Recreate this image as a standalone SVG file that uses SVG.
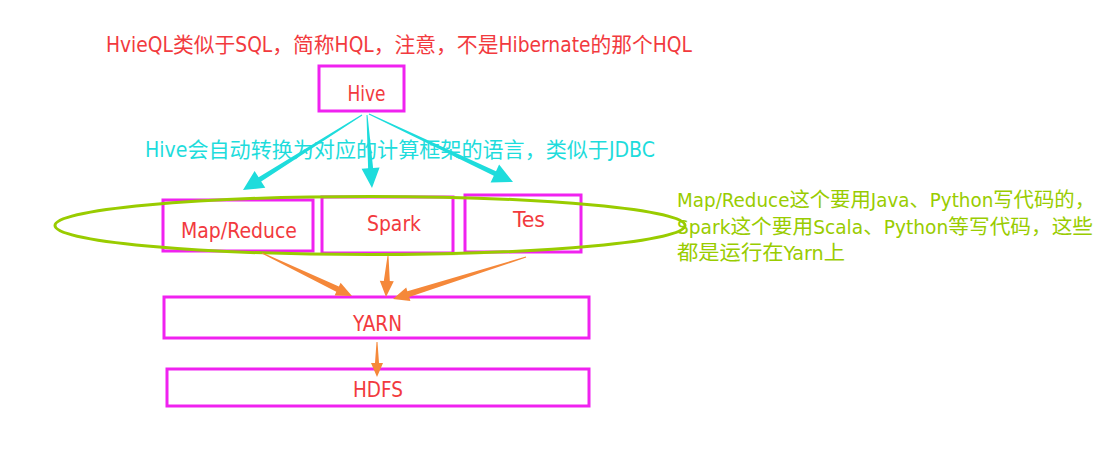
<svg xmlns="http://www.w3.org/2000/svg" width="1112" height="451" viewBox="0 0 1112 451">
<style>
text{font-family:"DejaVu Sans Condensed","DejaVu Sans","Noto Sans CJK SC",sans-serif;font-size:22px}
.box{fill:none;stroke:#f022f0;stroke-width:3}
.lbl{fill:#f23a3e;text-anchor:middle}
.red{fill:#f23a3e;font-size:21px}
.cyan{fill:#1edcdc;font-size:21px}
.green{fill:#99cc00;font-size:20px}
.ca{fill:#1edcdc}
.oa{fill:#f5883a}
</style>
<rect width="1112" height="451" fill="#ffffff"/>
<text class="red" x="106" y="52" textLength="586" lengthAdjust="spacingAndGlyphs">HvieQL类似于SQL，简称HQL，注意，不是Hibernate的那个HQL</text>
<g id="hive"><rect class="box" x="319" y="66" width="85" height="45"/><text class="lbl" x="366.5" y="100.5" textLength="38" lengthAdjust="spacingAndGlyphs">Hive</text></g>
<g id="mapreduce"><rect class="box" x="163" y="200" width="150" height="51"/><text class="lbl" x="239" y="238" textLength="116" lengthAdjust="spacingAndGlyphs">Map/Reduce</text></g>
<g id="spark"><rect class="box" x="322" y="197" width="131" height="56"/><text class="lbl" x="394" y="231" textLength="54" lengthAdjust="spacingAndGlyphs">Spark</text></g>
<g id="tes"><rect class="box" x="465" y="195" width="116" height="57"/><text class="lbl" x="529" y="226.5" textLength="32" lengthAdjust="spacingAndGlyphs">Tes</text></g>
<g id="yarn"><rect class="box" x="164" y="297" width="425" height="41"/><text class="lbl" x="377.5" y="331" textLength="49" lengthAdjust="spacingAndGlyphs">YARN</text></g>
<g id="hdfs"><rect class="box" x="167" y="369" width="422" height="37"/><text class="lbl" x="378" y="396.5" textLength="50" lengthAdjust="spacingAndGlyphs">HDFS</text></g>
<g id="group"><ellipse cx="370" cy="225.5" rx="315" ry="29" fill="none" stroke="#99cc00" stroke-width="3"/></g>
<g id="connectors">
<polygon class="ca" points="361.7,114.6 258.6,177.2 254.6,170.9 243,190 265.3,187.8 261.2,181.4 362.3,115.4"/>
<polygon class="ca" points="366.5,115 368.1,168.3 361.6,168.7 372,188 379.6,167.5 373.1,167.9 367.5,115"/>
<polygon class="ca" points="368.8,114.5 493.8,175.8 490.6,182.5 513,182 499.1,164.5 496,171.2 369.2,113.5"/>
<polygon class="oa" points="261.8,253.5 336.3,291.8 334.6,295.4 352,296 340.6,282.8 338.9,286.4 262.2,252.5"/>
<polygon class="oa" points="387.5,256 383.8,280.9 379.8,280.7 386,297 393.8,281.3 389.8,281.1 388.5,256"/>
<polygon class="oa" points="525.8,256.5 407.4,291.3 406.2,287.5 393,299 410.4,300.9 409.2,297.1 526.2,257.5"/>
<polygon class="oa" points="376.5,342 375,363 371,363 377,377 383,363 379,363 377.5,342"/>
</g>
<text class="cyan" x="145" y="157" textLength="510" lengthAdjust="spacingAndGlyphs">Hive会自动转换为对应的计算框架的语言，类似于JDBC</text>
<g id="note">
<text class="green" x="677" y="207" textLength="418" lengthAdjust="spacingAndGlyphs">Map/Reduce这个要用Java、Python写代码的，</text>
<text class="green" x="677" y="234" textLength="416" lengthAdjust="spacingAndGlyphs">Spark这个要用Scala、Python等写代码，这些</text>
<text class="green" x="677" y="260" textLength="168" lengthAdjust="spacingAndGlyphs">都是运行在Yarn上</text>
</g>
</svg>
